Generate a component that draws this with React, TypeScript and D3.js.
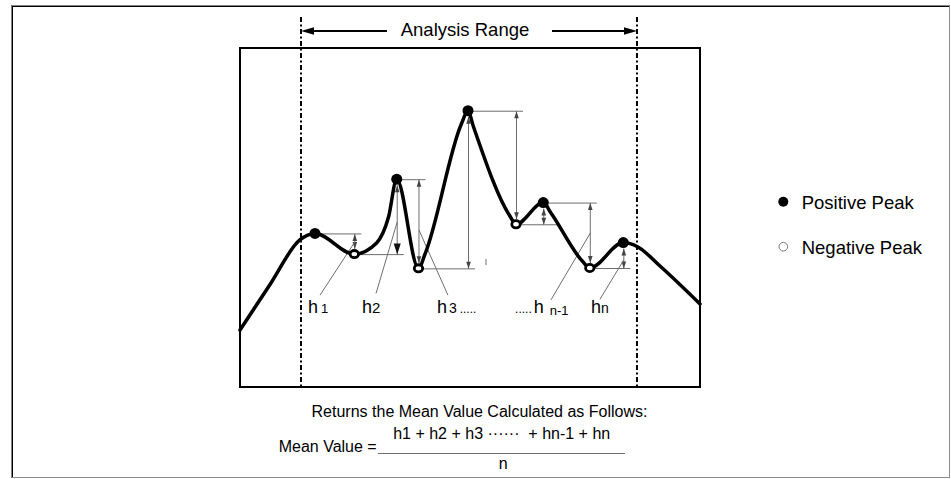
import React from 'react';
import * as d3 from 'd3';

// Trace (horizontal position 0..100 % of screen, level 0..100 % of screen)
const traceU = [0, 6.6, 13.0, 16.3, 24.85, 29.7, 32.3, 34.07, 38.8, 40.3, 48.1, 49.57, 50.7, 58.6, 60.0, 65.93, 67.6, 74.5, 76.04, 83.33, 86.5, 91.3, 100];
const traceV = [16.8, 30.4, 43.4, 45.3, 39.2, 42.5, 50.2, 61.3, 35.0, 39.5, 77.5, 81.5, 77.0, 50.6, 48.0, 54.4, 51.3, 37.0, 35.1, 42.6, 41.3, 35.7, 24.5];
// indices of alternating extremes (positive, negative, ...)
const extremeIdx = [3, 4, 7, 8, 11, 14, 15, 18, 19];
const extremeType = ['pos', 'neg', 'pos', 'neg', 'pos', 'neg', 'pos', 'neg', 'pos'];
const analysisRange = [13.26, 86.3];

// labels
const labelU = [14.8, 26.5, 42.8, 59.8, 76.3];
const labelSub = ['1', '2', '3', 'n-1', 'n'];
// leader lines: bottom (u,v) -> top (u,v)
const leaderFromU = [17.4, 29.57, 45.2, 67.6, 78.26];
const leaderFromV = [27.1, 27.6, 27.1, 25.7, 25.9];
const leaderToU = [24.85, 34.07, 38.8, 76.04, 83.33];
const leaderToV = [42.8, 48.7, 46.3, 45.4, 37.5];

const legendItems = ['Positive Peak', 'Negative Peak'];
const formulaNumerator = 'h1 + h2 + h3 \u00B7\u00B7\u00B7\u00B7\u00B7\u00B7  + hn-1 + hn';

const FONT = '"Liberation Sans", Arial, Helvetica, sans-serif';

export default function App() {
  const box = { x0: 240, x1: 700, y0: 48, y1: 387 };
  const xs = d3.scaleLinear().domain([0, 100]).range([box.x0, box.x1]);
  const ys = d3.scaleLinear().domain([0, 100]).range([box.y1, box.y1 - 339]);

  const pts = traceU.map((u, i) => ({ u, v: traceV[i] }));
  const line = d3.line<{ u: number; v: number }>()
    .x(d => xs(d.u)).y(d => ys(d.v)).curve(d3.curveMonotoneX);

  const ext = extremeIdx.map((idx, i) => ({ x: xs(traceU[idx]), y: ys(traceV[idx]), type: extremeType[i] }));

  const tri = (x: number, y: number, dir: number, len: number, hw: number) =>
    `M${x},${y}L${x - hw},${y - dir * len}L${x + hw},${y - dir * len}Z`;

  const gray = '#6e6e6e';
  const levelLines: any[] = [];
  const arrows: any[] = [];
  for (let i = 0; i < ext.length - 1; i++) {
    const a = ext[i], b = ext[i + 1];
    const ext2 = i === 5 ? 15 : 7;
    levelLines.push(<line key={'l' + i} x1={a.x} x2={b.x + ext2} y1={a.y + 0.5} y2={a.y + 0.5} stroke={gray} strokeWidth={1} />);
    const pos = a.type === 'pos' ? a : b;
    const neg = a.type === 'pos' ? b : a;
    const x = b.x + 0.5;
    let yTop: number, yBot: number;
    if (b.type === 'neg') { yTop = pos.y + 0.5; yBot = neg.y - 5; }
    else { yTop = pos.y + 6; yBot = neg.y + 0.5; }
    const big = i === 1;
    arrows.push(
      <g key={'a' + i}>
        <line x1={x} x2={x} y1={yTop} y2={yBot} stroke={gray} strokeWidth={1} />
        <path d={tri(x, yTop, -1, 7, 2.3)} fill="#444" />
        <path d={big ? tri(x, yBot, 1, 11, 3.5) : tri(x, yBot, 1, 7, 2.3)} fill={big ? '#111' : '#444'} />
      </g>
    );
  }

  const labelY = ys(21.8);

  return (
    <svg width={951} height={479} style={{ position: 'absolute', left: 0, top: 0, background: '#fff' }} fontFamily={FONT}>
      {/* outer frame */}
      <line x1={11} x2={950} y1={5.5} y2={5.5} stroke="#808080" strokeWidth={1} />
      <line x1={12} x2={950} y1={6.5} y2={6.5} stroke="#000" strokeWidth={1} />
      <line x1={11.5} x2={11.5} y1={5} y2={478} stroke="#808080" strokeWidth={1} />
      <line x1={12.5} x2={12.5} y1={6} y2={477} stroke="#000" strokeWidth={1} />
      <line x1={12} x2={950} y1={477.5} y2={477.5} stroke="#8a8a8a" strokeWidth={1} />
      <line x1={949.5} x2={949.5} y1={6} y2={478} stroke="#8a8a8a" strokeWidth={1} />

      {/* screen box */}
      <rect x={box.x0} y={box.y0} width={box.x1 - box.x0} height={box.y1 - box.y0} fill="none" stroke="#000" strokeWidth={2} />

      {/* analysis range lines */}
      {analysisRange.map((u, i) => (
        <line key={'r' + i} x1={xs(u)} x2={xs(u)} y1={17} y2={box.y1} stroke="#000" strokeWidth={2} strokeDasharray="5,2.5,2,2.5" />
      ))}
      <line x1={xs(analysisRange[0]) + 8} x2={387} y1={31} y2={31} stroke="#000" strokeWidth={2} />
      <path d={`M${xs(analysisRange[0])},31L${xs(analysisRange[0]) + 13},27.3L${xs(analysisRange[0]) + 13},34.7Z`} fill="#000" />
      <line x1={552} x2={xs(analysisRange[1]) - 8} y1={31} y2={31} stroke="#000" strokeWidth={2} />
      <path d={`M${xs(analysisRange[1])},31L${xs(analysisRange[1]) - 13},27.3L${xs(analysisRange[1]) - 13},34.7Z`} fill="#000" />
      <text x={465} y={36} textAnchor="middle" fontSize={18.5} fill="#000">Analysis Range</text>

      {/* measurement lines */}
      {levelLines}
      {arrows}
      <line x1={486} x2={486} y1={259} y2={265} stroke={gray} strokeWidth={1} />

      {/* leader lines */}
      {leaderFromU.map((u, i) => (
        <line key={'ld' + i} x1={xs(u)} y1={ys(leaderFromV[i])} x2={xs(leaderToU[i]) + 0.5} y2={ys(leaderToV[i])} stroke={gray} strokeWidth={1} />
      ))}

      {/* trace */}
      <path d={line(pts) || ''} fill="none" stroke="#000" strokeWidth={3.5} strokeLinejoin="round" strokeLinecap="round" />

      {/* markers */}
      {ext.map((e, i) => e.type === 'pos'
        ? <circle key={'m' + i} cx={e.x} cy={e.y} r={5.5} fill="#000" />
        : <ellipse key={'m' + i} cx={e.x} cy={e.y} rx={4.2} ry={3.6} fill="#fff" stroke="#000" strokeWidth={2.8} />
      )}

      {/* labels */}
      <text x={xs(labelU[0])} y={labelY} fontSize={18} fill="#000">h<tspan fontSize={13} dx={3}>{labelSub[0]}</tspan></text>
      <text x={xs(labelU[1])} y={labelY} fontSize={18} fill="#000">h<tspan fontSize={15}>{labelSub[1]}</tspan></text>
      <text x={xs(labelU[2])} y={labelY} fontSize={18} fill="#000">h<tspan fontSize={14} dx={2}>{labelSub[2]}</tspan><tspan fontSize={12} dx={3}>.....</tspan></text>
      <text x={xs(labelU[3])} y={labelY} fontSize={12} fill="#000">.....<tspan fontSize={18} dx={2}>h</tspan><tspan fontSize={13} dx={6} dy={2}>{labelSub[3]}</tspan></text>
      <text x={xs(labelU[4])} y={labelY} fontSize={18} fill="#000">h<tspan fontSize={14}>{labelSub[4]}</tspan></text>

      {/* legend */}
      <circle cx={783.3} cy={201.7} r={5} fill="#000" />
      <text x={801.7} y={208.5} fontSize={18.5} fill="#000">{legendItems[0]}</text>
      <circle cx={783.3} cy={246.7} r={4.3} fill="#fff" stroke="#777" strokeWidth={1} />
      <text x={801.7} y={254} fontSize={18.5} fill="#000">{legendItems[1]}</text>

      {/* formula */}
      <text x={479.5} y={416.5} textAnchor="middle" fontSize={16} fill="#000">Returns the Mean Value Calculated as Follows:</text>
      <text x={501.7} y={438.5} textAnchor="middle" fontSize={16} fill="#000" style={{ whiteSpace: 'pre' }}>{formulaNumerator}</text>
      <text x={376.7} y={451.5} textAnchor="end" fontSize={16} fill="#000">Mean Value =</text>
      <line x1={378} x2={625} y1={453.5} y2={453.5} stroke={gray} strokeWidth={1} />
      <text x={503.3} y={468.5} textAnchor="middle" fontSize={16} fill="#000">n</text>
    </svg>
  );
}
